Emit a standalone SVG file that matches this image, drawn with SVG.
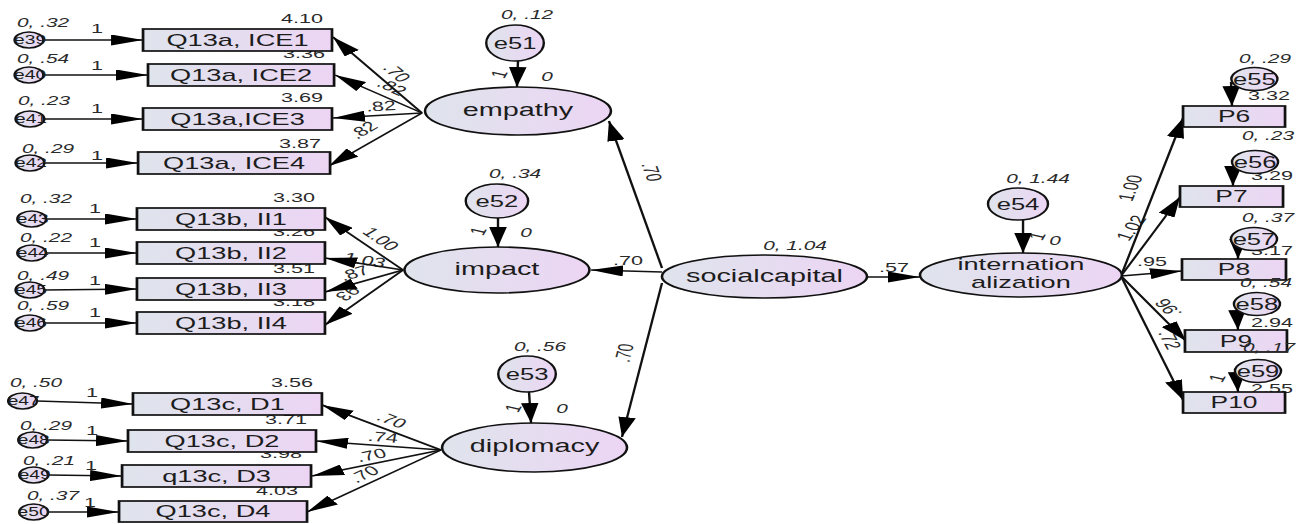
<svg xmlns="http://www.w3.org/2000/svg" width="1296" height="524" viewBox="0 0 1296 524">
<defs>
<linearGradient id="gf" x1="0" y1="0" x2="1" y2="0"><stop offset="0" stop-color="#dfe4ec"/><stop offset="1" stop-color="#ecd5f4"/></linearGradient>
<marker id="ah" markerUnits="userSpaceOnUse" markerWidth="20" markerHeight="11" refX="20" refY="5.5" orient="auto"><path d="M0,0 L20,5.5 L0,11 z" fill="#000"/></marker>
</defs>
<style>
.bx{fill:url(#gf);stroke:#111;stroke-width:1.7}
.lv{fill:url(#gf);stroke:#111;stroke-width:1.6}
.er{fill:url(#gf);stroke:#111;stroke-width:1.5}
text{font-family:"Liberation Sans",Arial,Helvetica,sans-serif;fill:#1c1c1c;text-anchor:middle}
.bt{font-size:17px}
.pt{font-size:16.5px}
.lt{font-size:18px}
.lt2{font-size:17px}
.et{font-size:16px}
.es{font-size:12px}
.n{font-size:13.5px;fill:#2a2a2a}
.v{font-size:13px;font-style:italic;fill:#2a2a2a}
.c line{stroke:#111;stroke-width:1.5;marker-end:url(#ah)}
</style>
<rect width="1296" height="524" fill="#fff"/>
<g transform="scale(1.6,1)">
<g id="labels">
<text class="n" x="188.75" y="23">4.10</text>
<text class="n" x="190" y="58.5">3.36</text>
<text class="n" x="188.75" y="102">3.69</text>
<text class="n" x="187.5" y="148">3.87</text>
<text class="n" x="183.75" y="202">3.30</text>
<text class="n" x="183.75" y="236">3.26</text>
<text class="n" x="183.75" y="273">3.51</text>
<text class="n" x="183.75" y="306">3.18</text>
<text class="n" x="182.5" y="387">3.56</text>
<text class="n" x="178.75" y="424">3.71</text>
<text class="n" x="175.6" y="458">3.98</text>
<text class="n" x="173.1" y="495">4.03</text>
<text class="v" x="26.9" y="27">0, .32</text>
<text class="v" x="26.9" y="63">0, .54</text>
<text class="v" x="27.5" y="105">0, .23</text>
<text class="v" x="30" y="153">0, .29</text>
<text class="v" x="28.75" y="203">0, .32</text>
<text class="v" x="28.75" y="242">0, .22</text>
<text class="v" x="26.9" y="280">0, .49</text>
<text class="v" x="26.9" y="310">0, .59</text>
<text class="v" x="22.5" y="387">0, .50</text>
<text class="v" x="28.75" y="430">0, .29</text>
<text class="v" x="30.6" y="465">0, .21</text>
<text class="v" x="33.1" y="500">0, .37</text>
<text class="n" x="60.6" y="33">1</text>
<text class="n" x="60.6" y="70">1</text>
<text class="n" x="60.6" y="113">1</text>
<text class="n" x="60.6" y="160">1</text>
<text class="n" x="59.4" y="213">1</text>
<text class="n" x="59.4" y="247">1</text>
<text class="n" x="59.4" y="285">1</text>
<text class="n" x="59.4" y="317">1</text>
<text class="n" x="57.5" y="397">1</text>
<text class="n" x="57.5" y="435">1</text>
<text class="n" x="56.9" y="470">1</text>
<text class="n" x="56.25" y="507">1</text>
<text class="v" x="329.4" y="19">0, .12</text>
<text class="v" x="321.9" y="178">0, .34</text>
<text class="v" x="337.5" y="351">0, .56</text>
<text class="v" x="648.75" y="183">0, 1.44</text>
<text class="v" x="496.9" y="250">0, 1.04</text>
<text class="v" x="341.9" y="81">0</text>
<text class="v" x="328.75" y="237">0</text>
<text class="v" x="351.25" y="413">0</text>
<text class="v" x="659.4" y="245">0</text>
<text class="n" transform="translate(311.9 74) rotate(-70)" dy="0.35em">1</text>
<text class="n" transform="translate(298.75 231) rotate(-70)" dy="0.35em">1</text>
<text class="n" transform="translate(320.6 408) rotate(-70)" dy="0.35em">1</text>
<text class="n" transform="translate(648.1 236) rotate(-70)" dy="0.35em">1</text>
<text class="n" transform="translate(760.6 378) rotate(-70)" dy="0.35em">1</text>
<text class="v" x="790.6" y="63">0, .29</text>
<text class="n" x="793.1" y="100">3.32</text>
<text class="v" x="792.5" y="140">0, .23</text>
<text class="n" x="795" y="180">3.29</text>
<text class="v" x="792.5" y="222">0, .37</text>
<text class="n" x="795" y="255">3.17</text>
<text class="n" x="795" y="327">2.94</text>
<text class="n" x="795" y="393">2.55</text>
<text class="n" transform="translate(248.1 73) rotate(53)" dy="0.35em">.70</text>
<text class="n" transform="translate(245 87) rotate(35.5)" dy="0.35em">.82</text>
<text class="n" transform="translate(238.1 106) rotate(-4.8)" dy="0.35em">.82</text>
<text class="n" transform="translate(226.9 130) rotate(-42.7)" dy="0.35em">.82</text>
<text class="n" transform="translate(238.1 239) rotate(47.2)" dy="0.35em">1.00</text>
<text class="n" transform="translate(228.1 260) rotate(14.2)" dy="0.35em">1.03</text>
<text class="n" transform="translate(221.25 273) rotate(-24.6)" dy="0.35em">.87</text>
<text class="n" transform="translate(218.75 292) rotate(131.8)" dy="0.35em">.93</text>
<text class="n" transform="translate(245 420) rotate(31.5)" dy="0.35em">.70</text>
<text class="n" transform="translate(239.4 437) rotate(6.4)" dy="0.35em">.74</text>
<text class="n" transform="translate(231.9 455) rotate(-17.3)" dy="0.35em">.70</text>
<text class="n" transform="translate(227.5 474) rotate(-36.7)" dy="0.35em">.70</text>
<text class="n" transform="translate(407.5 172) rotate(77.2)" dy="0.35em">.70</text>
<text class="n" x="392.5" y="265">.70</text>
<text class="n" transform="translate(390 353) rotate(-81.1)" dy="0.35em">.70</text>
<text class="n" x="558.75" y="272">.57</text>
<text class="n" transform="translate(706.25 188) rotate(-75.1)" dy="0.35em">1.00</text>
<text class="n" transform="translate(706.9 228) rotate(-64)" dy="0.35em">1.02</text>
<text class="n" x="720" y="266">.95</text>
<text class="n" transform="translate(730 308) rotate(236.2)" dy="0.35em">.96</text>
<text class="n" transform="translate(731.25 340) rotate(71.6)" dy="0.35em">.72</text>
</g>
<g id="connectors" class="c">
<line x1="27" y1="40" x2="89.4" y2="40"/>
<line x1="27" y1="75" x2="92.5" y2="75"/>
<line x1="27.6" y1="119" x2="89.4" y2="119"/>
<line x1="27.6" y1="163" x2="86.3" y2="163"/>
<line x1="28.8" y1="219" x2="85.6" y2="219"/>
<line x1="28.8" y1="253" x2="85.6" y2="253"/>
<line x1="27.6" y1="290" x2="85.6" y2="289"/>
<line x1="27.6" y1="323" x2="85.6" y2="323"/>
<line x1="23.1" y1="401" x2="83.1" y2="404"/>
<line x1="29.4" y1="440" x2="80" y2="441"/>
<line x1="30" y1="475" x2="76.3" y2="476"/>
<line x1="30" y1="512" x2="74.4" y2="512"/>
<line x1="263.75" y1="113" x2="208.1" y2="37"/>
<line x1="263.75" y1="113" x2="209.4" y2="75"/>
<line x1="263.75" y1="113" x2="208.1" y2="118"/>
<line x1="263.75" y1="113" x2="205.6" y2="166"/>
<line x1="251.9" y1="270" x2="203.1" y2="217"/>
<line x1="251.9" y1="270" x2="203.1" y2="258"/>
<line x1="251.9" y1="270" x2="203.1" y2="292"/>
<line x1="251.9" y1="270" x2="203.1" y2="325"/>
<line x1="275.6" y1="450" x2="201.25" y2="405"/>
<line x1="275.6" y1="450" x2="197.5" y2="441"/>
<line x1="275.6" y1="450" x2="195" y2="476"/>
<line x1="275.6" y1="450" x2="191.9" y2="512"/>
<line x1="413.75" y1="272" x2="369.4" y2="270"/>
<line x1="413.75" y1="268" x2="380.6" y2="121"/>
<line x1="413.75" y1="283" x2="388.75" y2="437"/>
<line x1="541.9" y1="277" x2="575" y2="277"/>
<line x1="700.6" y1="276" x2="739.4" y2="118"/>
<line x1="700.6" y1="276" x2="737.5" y2="197"/>
<line x1="700.6" y1="276" x2="738.75" y2="271"/>
<line x1="700.6" y1="276" x2="741.25" y2="341"/>
<line x1="700.6" y1="276" x2="739.4" y2="400"/>
<line x1="323.75" y1="61" x2="323.1" y2="87"/>
<line x1="311.25" y1="218" x2="311.25" y2="247"/>
<line x1="330.6" y1="391" x2="331.9" y2="423"/>
<line x1="639.4" y1="220" x2="639.4" y2="253"/>
<line x1="769.4" y1="82" x2="770" y2="106"/>
<line x1="770.6" y1="166" x2="770.6" y2="186"/>
<line x1="773.75" y1="244" x2="773.75" y2="259"/>
<line x1="773.1" y1="310" x2="773.75" y2="330"/>
<line x1="773.1" y1="378" x2="773.75" y2="392"/>
</g>
<g id="box-ice1"><rect class="bx" x="89.4" y="29" width="118.1" height="22"/><text class="bt" x="148.45" y="46">Q13a, ICE1</text></g>
<g id="box-ice2"><rect class="bx" x="92.5" y="64" width="116.3" height="22"/><text class="bt" x="150.65" y="81">Q13a, ICE2</text></g>
<g id="box-ice3"><rect class="bx" x="89.4" y="108" width="118.1" height="22"/><text class="bt" x="148.45" y="125">Q13a,ICE3</text></g>
<g id="box-ice4"><rect class="bx" x="86.3" y="152" width="120" height="22"/><text class="bt" x="146.3" y="169">Q13a, ICE4</text></g>
<g id="box-ii1"><rect class="bx" x="85.6" y="208" width="117.5" height="22"/><text class="bt" x="144.35" y="225">Q13b, II1</text></g>
<g id="box-ii2"><rect class="bx" x="85.6" y="242" width="117.5" height="22"/><text class="bt" x="144.35" y="259">Q13b, II2</text></g>
<g id="box-ii3"><rect class="bx" x="85.6" y="278" width="117.5" height="22"/><text class="bt" x="144.35" y="295">Q13b, II3</text></g>
<g id="box-ii4"><rect class="bx" x="85.6" y="312" width="117.5" height="22"/><text class="bt" x="144.35" y="329">Q13b, II4</text></g>
<g id="box-d1"><rect class="bx" x="83.1" y="393" width="118.1" height="22"/><text class="bt" x="142.15" y="410">Q13c, D1</text></g>
<g id="box-d2"><rect class="bx" x="80" y="430" width="117.5" height="22"/><text class="bt" x="138.75" y="447">Q13c, D2</text></g>
<g id="box-d3"><rect class="bx" x="76.3" y="465" width="118.1" height="22"/><text class="bt" x="135.35" y="482">q13c, D3</text></g>
<g id="box-d4"><rect class="bx" x="74.4" y="501" width="117.5" height="21"/><text class="bt" x="133.15" y="517">Q13c, D4</text></g>
<g id="box-p6"><rect class="bx" x="739.4" y="106" width="63.75" height="21"/><text class="pt" x="771.3" y="122.5">P6</text></g>
<g id="box-p7"><rect class="bx" x="737.5" y="186" width="64.4" height="21"/><text class="pt" x="769.7" y="202.5">P7</text></g>
<g id="box-p8"><rect class="bx" x="738.75" y="259" width="65" height="21"/><text class="pt" x="771.25" y="275.5">P8</text></g>
<g id="box-p9"><rect class="bx" x="740.6" y="330" width="63.75" height="22"/><text class="pt" x="772.5" y="347">P9</text></g>
<g id="box-p10"><rect class="bx" x="739.4" y="392" width="63.75" height="21"/><text class="pt" x="771.3" y="408.5">P10</text></g>
<g id="lat-empathy"><ellipse class="lv" cx="323.75" cy="111" rx="58.1" ry="24"/><text class="lt" x="323.75" y="116.5">empathy</text></g>
<g id="lat-impact"><ellipse class="lv" cx="310.6" cy="270" rx="57.8" ry="23"/><text class="lt" x="310.6" y="275">impact</text></g>
<g id="lat-diplomacy"><ellipse class="lv" cx="334.1" cy="447.5" rx="57.8" ry="24.5"/><text class="lt" x="334.1" y="452.5">diplomacy</text></g>
<g id="lat-socialcapital"><ellipse class="lv" cx="477.8" cy="276.5" rx="64.1" ry="21.5"/><text class="lt" x="477.8" y="282">socialcapital</text></g>
<g id="lat-internationalization"><ellipse class="lv" cx="638.1" cy="275" rx="63.1" ry="22"/><text class="lt2" x="638.1" y="270">internation</text><text class="lt2" x="638.1" y="288">alization</text></g>
<g id="err-e51"><ellipse class="er" cx="321.9" cy="43" rx="18" ry="18"/><text class="et" x="321.9" y="49">e51</text></g>
<g id="err-e52"><ellipse class="er" cx="310.6" cy="201" rx="19.5" ry="17"/><text class="et" x="310.6" y="207">e52</text></g>
<g id="err-e53"><ellipse class="er" cx="329.4" cy="374" rx="18" ry="18"/><text class="et" x="329.4" y="380">e53</text></g>
<g id="err-e54"><ellipse class="er" cx="636.25" cy="204" rx="18.75" ry="16"/><text class="et" x="636.25" y="210">e54</text></g>
<g id="err-e55"><ellipse class="er" cx="784" cy="79" rx="14.4" ry="11.5"/><text class="et" x="784" y="85">e55</text></g>
<g id="err-e56"><ellipse class="er" cx="784.4" cy="162" rx="14.4" ry="11.5"/><text class="et" x="784.4" y="168">e56</text></g>
<g id="err-e57"><ellipse class="er" cx="783.75" cy="239" rx="14.4" ry="11.5"/><text class="et" x="783.75" y="245">e57</text></g>
<g id="err-e58"><ellipse class="er" cx="785.6" cy="304" rx="14.4" ry="11.5"/><text class="et" x="785.6" y="310">e58</text></g>
<g id="err-e59"><ellipse class="er" cx="786.25" cy="371" rx="14.4" ry="11.5"/><text class="et" x="786.25" y="377">e59</text></g>
<g id="err-e39"><ellipse class="er" cx="18.1" cy="40" rx="9" ry="8"/><text class="es" x="18.8" y="44.3">e39</text></g>
<g id="err-e40"><ellipse class="er" cx="18.1" cy="75" rx="9" ry="8"/><text class="es" x="18.8" y="79.3">e40</text></g>
<g id="err-e41"><ellipse class="er" cx="18.7" cy="119" rx="9" ry="8"/><text class="es" x="19.4" y="123.3">e41</text></g>
<g id="err-e42"><ellipse class="er" cx="18.7" cy="163" rx="9" ry="8"/><text class="es" x="19.4" y="167.3">e42</text></g>
<g id="err-e43"><ellipse class="er" cx="19.8" cy="219" rx="9" ry="8"/><text class="es" x="20.5" y="223.3">e43</text></g>
<g id="err-e44"><ellipse class="er" cx="19.8" cy="253" rx="9" ry="8"/><text class="es" x="20.5" y="257.3">e44</text></g>
<g id="err-e45"><ellipse class="er" cx="18.7" cy="290" rx="9" ry="8"/><text class="es" x="19.4" y="294.3">e45</text></g>
<g id="err-e46"><ellipse class="er" cx="18.7" cy="323" rx="9" ry="8"/><text class="es" x="19.4" y="327.3">e46</text></g>
<g id="err-e47"><ellipse class="er" cx="14.1" cy="401" rx="9" ry="8"/><text class="es" x="14.8" y="405.3">e47</text></g>
<g id="err-e48"><ellipse class="er" cx="20.4" cy="440" rx="9" ry="8"/><text class="es" x="21.1" y="444.3">e48</text></g>
<g id="err-e49"><ellipse class="er" cx="21" cy="475" rx="9" ry="8"/><text class="es" x="21.7" y="479.3">e49</text></g>
<g id="err-e50"><ellipse class="er" cx="21" cy="512" rx="9" ry="8"/><text class="es" x="21" y="516.3">e50</text></g>
<g id="labels-top">
<text class="v" x="791.25" y="287">0, .54</text>
<text class="v" x="793.1" y="352">0, .17</text>
</g>
</g>
</svg>
